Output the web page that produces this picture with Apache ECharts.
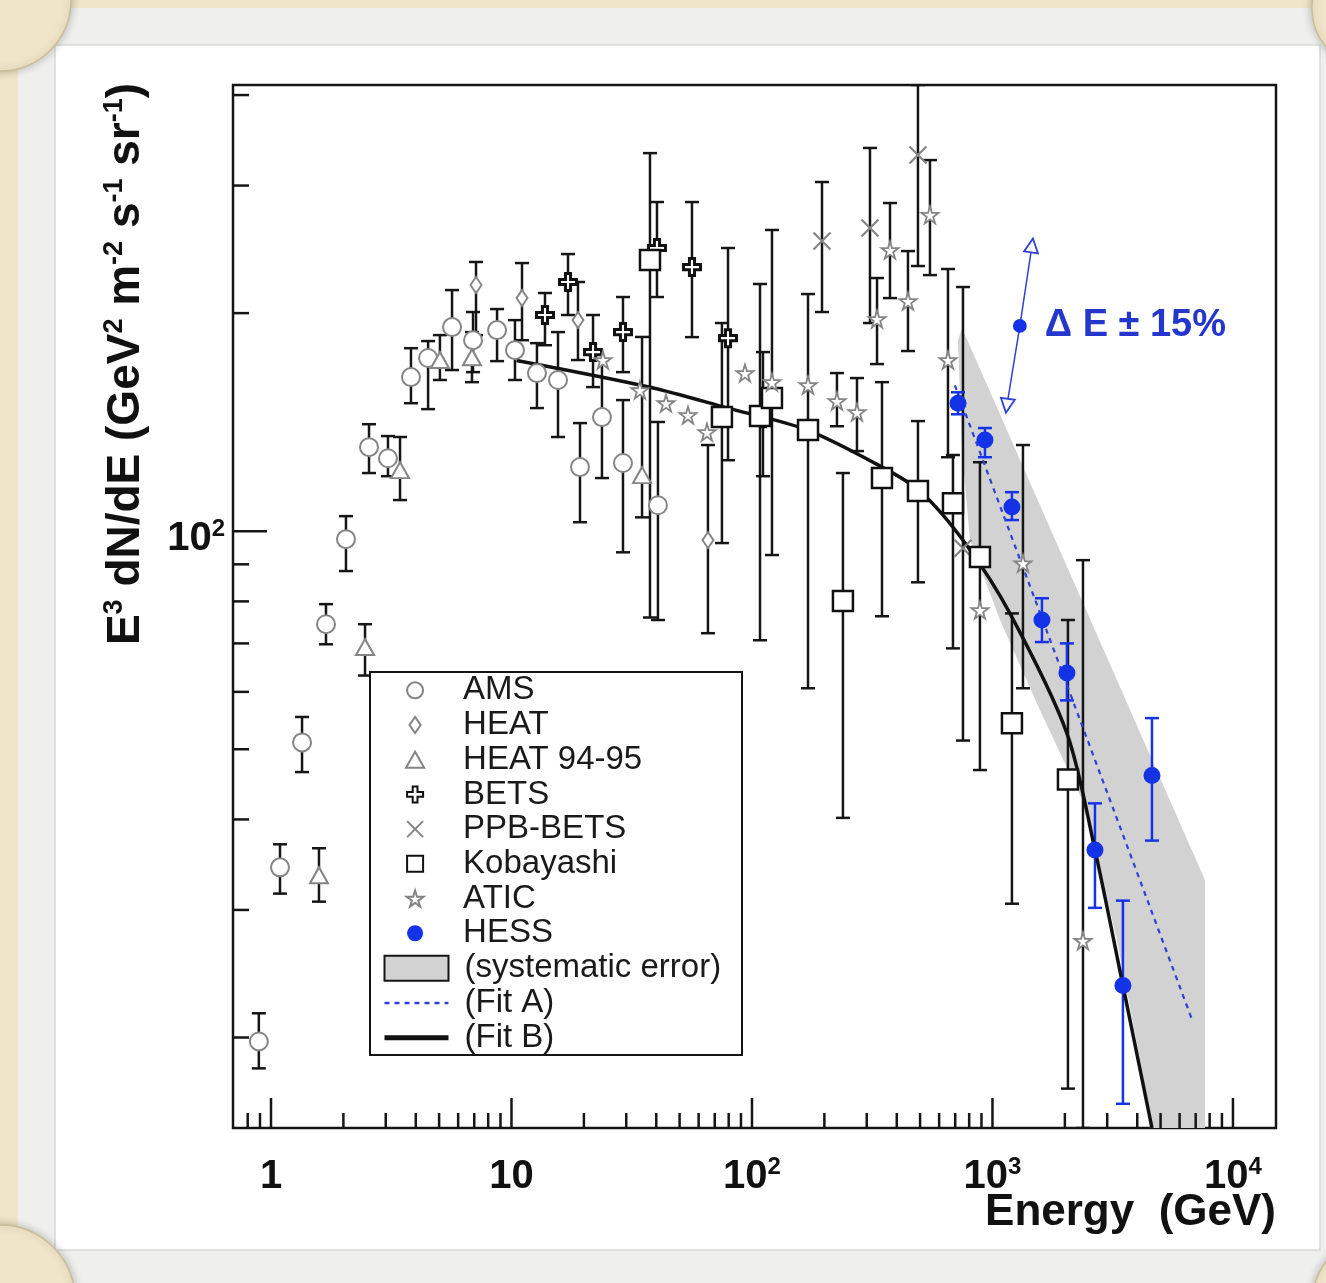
<!DOCTYPE html>
<html>
<head>
<meta charset="utf-8">
<script src="https://cdn.jsdelivr.net/npm/echarts@6/dist/echarts.min.js"></script>
<style>
  html, body { margin: 0; padding: 0; background: #f0e5c8; }
  #chart { width: 1326px; height: 1283px; }
</style>
</head>
<body>
<div id="chart"></div>
<script>
// Cosmic-ray electron spectrum, E^3 dN/dE versus energy, log-log.

const X_MIN = 0.695, X_MAX = 15100;
const Y_MIN = 15, Y_MAX = 413;

const xMajorTicks = [1, 10, 100, 1000, 10000];
const xMinorTicks = [0.8, 0.9, 2, 3, 4, 5, 6, 7, 8, 9, 20, 30, 40, 50, 60, 70, 80, 90,
  200, 300, 400, 500, 600, 700, 800, 900, 2000, 3000, 4000, 5000, 6000, 7000, 8000, 9000];
const yMajorTicks = [100];
const yMinorTicks = [20, 30, 40, 50, 60, 70, 80, 90, 200, 300, 400];

// rows: [energy GeV, value, lower, upper]
const ams = [
  [0.89, 19.75, 18.13, 21.6], [1.09, 34.35, 31.6, 36.96], [1.346, 51.1, 46.5, 55.4],
  [1.693, 74.4, 69.8, 79.3], [2.05, 97.5, 88.1, 104.9], [2.556, 130.6, 120.3, 140.5],
  [3.065, 126.1, 119.1, 135.3], [3.82, 163.2, 150.2, 178.9], [4.5, 173.4, 147.4, 183.0],
  [5.66, 191.3, 166.9, 215.2], [6.92, 183.5, 165.8, 200.7], [8.71, 189.5, 171.7, 202.6],
  [10.34, 177.8, 161.7, 195.6], [12.76, 165.3, 147.9, 181.8], [15.61, 161.7, 134.9, 188.3],
  [19.27, 122.6, 102.9, 141.0], [23.78, 143.7, 118.4, 172.3], [29.08, 124.2, 93.5, 151.7],
  [40.65, 108.6, 75.4, 141.5]
];
const heat = [
  [7.12, 218.7, 186.5, 235.3], [11.06, 209.8, 183.5, 234.5], [18.9, 195.6, 172.3, 220.8],
  [65.6, 97.2, 72.3, 131.5]
];
const heat9495 = [
  [1.583, 33.5, 30.8, 36.5], [2.46, 69.2, 63.2, 74.4], [3.44, 121.4, 110.4, 134.9],
  [5.04, 172.3, 161.7, 186.5], [6.85, 173.8, 160.6, 188.3], [34.9, 119.5, 104.5, 185.4]
];
const bets = [
  [13.78, 198.8, 180.6, 213.2], [17.18, 220.8, 198.8, 241.3], [21.83, 176.7, 158.1, 198.8],
  [29.08, 188.3, 165.8, 210.5], [40.27, 246.0, 210.5, 284.7], [56.3, 231.5, 185.3, 284.7],
  [79.5, 184.7, 125.3, 246.0], [111.1, 143.2, 119.1, 176.7]
];
const ppbBets = [
  [195.5, 251.6, 200.7, 303.4], [309.5, 262.2, 193.8, 338.1], [490, 330.6, 232.3, 413],
  [754, 94.7, 51.4, 217.3]
];
const kobayashi = [
  [37.66, 236.8, 76.0, 332.6], [75.0, 143.7, 96.3, 193.8], [108, 144.2, 70.7, 219.4],
  [121.1, 152.7, 92.7, 260.5], [171, 137.9, 60.7, 212.5], [238.9, 80.1, 40.2, 120.3],
  [347.2, 118.4, 76.3, 160.6], [490, 113.6, 85.0, 141.9], [685, 109.3, 68.9, 127.4],
  [887, 92.1, 46.8, 124.5], [1205, 54.3, 30.6, 77.0], [2060, 45.4, 17.0, 75.4]
];
const atic = [
  [24.0, 172.3, 172.3, 172.3], [34.2, 156.6, 156.6, 156.6], [43.9, 150.2, 150.2, 150.2],
  [54.2, 144.6, 144.6, 144.6], [65.0, 137.0, 137.0, 137.0], [93.5, 165.3, 165.3, 165.3],
  [121.1, 160.6, 160.6, 160.6], [171, 159.1, 159.1, 159.1], [225.6, 151.2, 139.6, 165.3],
  [273.3, 146.0, 129.0, 162.7], [331.1, 196.3, 170.1, 223.6], [374.9, 244.4, 209.8, 283.8],
  [445.3, 207.8, 177.3, 243.6], [549.7, 273.3, 225.7, 325.3], [653.1, 172.3, 126.5, 230.1],
  [887, 77.8, 77.8, 77.8], [1339, 90.3, 60.7, 131.5], [2379, 27.2, 15.0, 91.2]
];
const hess = [
  [718.9, 150.2, 145.0, 155.5], [930.5, 133.6, 126.5, 138.8], [1205, 108.0, 103.6, 113.2],
  [1606, 75.4, 70.3, 80.8], [2040, 63.7, 58.4, 70.0], [2668, 36.3, 30.2, 42.1],
  [3487, 23.6, 16.2, 30.9], [4605, 46.0, 37.4, 55.2]
];

// systematic-error band: upper edge left to right, then lower edge right to left
const bandUpper = [[747, 190.7], [7648, 33.0], [7648, 15.0]];
const bandLower = [[4517, 15.0], [4224, 17.8], [3294, 27.2], [2472, 41.2], [1576, 56.6],
  [1075, 75.4], [806, 97.2], [747, 129.4], [719, 183.5]];

const fitA = [[698, 159], [6820, 21.0]];
const fitB = [[10.5, 172], [37.6, 158], [78.7, 148], [169, 138], [341, 123], [499, 113.6],
  [769, 96.3], [1182, 77.0], [2040, 52.6], [2668, 36.3], [3487, 23.6], [4605, 15.0]];

// energy-scale uncertainty marker: lower arrow, centre, upper arrow
const deltaE = [[1148, 149], [1300, 192], [1460, 248]];

const FONT = "'Liberation Sans', Arial, Helvetica, sans-serif";
const BLUE = '#1533e6';
const GRAY = '#858585';
const PLUS_PATH = 'path://M35,0H65V35H100V65H65V100H35V65H0V35H35Z';
const CROSS_PATH = 'path://M0,0L100,100M100,0L0,100';
const STAR_PATH = 'path://M50,0L61,35L98,35L68,57L79,91L50,70L21,91L32,57L2,35L39,35Z';
const DIAMOND_PATH = 'path://M35,0L70,50L35,100L0,50Z';
const TRIANGLE_PATH = 'path://M50,0L100,88L0,88Z';
const SQUARE_PATH = 'path://M0,0H100V100H0Z';
const HIDDEN = { color: 'rgba(0,0,0,0)', borderColor: 'rgba(0,0,0,0)', borderWidth: 0 };

function xy(rows) { return rows.map(r => [r[0], r[1]]); }

function errorBars(id, rows, color, width) {
  return {
    type: 'custom', id: id, coordinateSystem: 'cartesian2d', clip: true, silent: true, z: 2,
    data: rows,
    renderItem(params, api) {
      const x = api.value(0), lo = api.value(2), hi = api.value(3);
      if (lo === hi) return null;
      const a = api.coord([x, lo]), b = api.coord([x, hi]);
      const cap = 7;
      const st = { stroke: color, lineWidth: width };
      return {
        type: 'group', children: [
          { type: 'line', shape: { x1: a[0], y1: a[1], x2: b[0], y2: b[1] }, style: st },
          { type: 'line', shape: { x1: a[0] - cap, y1: a[1], x2: a[0] + cap, y2: a[1] }, style: st },
          { type: 'line', shape: { x1: b[0] - cap, y1: b[1], x2: b[0] + cap, y2: b[1] }, style: st }
        ]
      };
    }
  };
}

function tickSeries(id, values, horizontal, len) {
  return {
    type: 'custom', id: id, coordinateSystem: 'cartesian2d', silent: true, z: 6,
    data: values.map(v => horizontal ? [v, Y_MIN] : [X_MIN, v]),
    renderItem(params, api) {
      const p = api.coord([api.value(0), api.value(1)]);
      const shape = horizontal
        ? { x1: p[0], y1: p[1], x2: p[0], y2: p[1] - len }
        : { x1: p[0], y1: p[1], x2: p[0] + len, y2: p[1] };
      return { type: 'line', shape: shape, style: { stroke: '#151515', lineWidth: 2.5 } };
    }
  };
}

function powLabel(v) {
  const l = Math.log10(v), e = Math.round(l);
  if (Math.abs(l - e) > 1e-6) return '';
  if (e === 0) return '{b|1}';
  if (e === 1) return '{b|10}';
  return '{b|10}{s|' + e + '}';
}

const labelRich = {
  b: { fontSize: 40, fontWeight: 'bold', fontFamily: FONT, color: '#111', lineHeight: 44 },
  s: { fontSize: 24, fontWeight: 'bold', fontFamily: FONT, color: '#111', verticalAlign: 'top', lineHeight: 24 }
};

function scatter(name, rows, symbol, size, style) {
  return {
    type: 'scatter', name: name, data: xy(rows), symbol: symbol, symbolSize: size, z: 4,
    silent: true, itemStyle: Object.assign({ opacity: 1 }, style)
  };
}

const legendText = { fontSize: 33, lineHeight: 34.7, color: '#1a1a1a', fontFamily: FONT, padding: [0, 0, 0, 11] };

const option = {
  backgroundColor: '#f0e5c8',
  animation: false,
  grid: { left: 233, top: 85, width: 1043, height: 1043, show: true, backgroundColor: '#ffffff',
    borderColor: '#151515', borderWidth: 2.5, outerBoundsMode: 'none', containLabel: false },
  xAxis: {
    type: 'log', logBase: 10, min: X_MIN, max: X_MAX,
    axisLine: { show: false }, axisTick: { show: false }, splitLine: { show: false },
    axisLabel: { show: true, margin: 27, showMinLabel: false, showMaxLabel: false, hideOverlap: false,
      formatter: powLabel, rich: labelRich }
  },
  yAxis: {
    type: 'log', logBase: 10, min: Y_MIN, max: Y_MAX,
    axisLine: { show: false }, axisTick: { show: false }, splitLine: { show: false },
    axisLabel: { show: true, margin: 8, showMinLabel: false, showMaxLabel: false, hideOverlap: false,
      padding: [16, 0, 0, 0], formatter: powLabel, rich: labelRich }
  },
  legend: [
    {
      z: 10, left: 405, top: 673, orient: 'vertical', padding: 0, itemGap: 0,
      itemWidth: 64, itemHeight: 16, selectedMode: false,
      data: [
        'AMS',
        { name: 'HEAT', icon: DIAMOND_PATH },
        { name: 'HEAT 94-95', icon: TRIANGLE_PATH },
        'BETS', 'PPB-BETS',
        { name: 'Kobayashi', icon: SQUARE_PATH },
        'ATIC', 'HESS'
      ],
      textStyle: legendText
    },
    {
      z: 10, left: 382, top: 951, orient: 'vertical', padding: 0, itemGap: 0,
      itemWidth: 64, itemHeight: 25, selectedMode: false,
      data: [
        { name: '(systematic error)', icon: 'rect', itemStyle: { color: '#d2d2d2', borderColor: '#151515', borderWidth: 2 } },
        { name: '(Fit A)', itemStyle: HIDDEN, lineStyle: { width: 2.5, color: '#3040d8', type: [5, 5] } },
        { name: '(Fit B)', itemStyle: HIDDEN, lineStyle: { width: 5, color: '#111' } }
      ],
      textStyle: legendText
    }
  ],
  graphic: [
    { type: 'rect', z: -20, silent: true, shape: { x: 18, y: 8, width: 1308, height: 1275 }, style: { fill: '#efefed' } },
    { type: 'rect', z: -19, silent: true, shape: { x: 55, y: 45, width: 1265, height: 1205 }, style: { fill: '#ffffff', stroke: '#d9d9d7', lineWidth: 1.5 } },
    { type: 'circle', z: -18, silent: true, shape: { cx: 0, cy: 0, r: 71 }, style: { fill: '#f0e5c8', stroke: '#cbbd95', lineWidth: 1.5, shadowBlur: 8, shadowColor: 'rgba(0,0,0,0.25)' } },
    { type: 'circle', z: -18, silent: true, shape: { cx: 0, cy: 1300, r: 75 }, style: { fill: '#f0e5c8', stroke: '#cbbd95', lineWidth: 1.5, shadowBlur: 8, shadowColor: 'rgba(0,0,0,0.25)' } },
    { type: 'circle', z: -18, silent: true, shape: { cx: 1372, cy: 8, r: 60 }, style: { fill: '#f0e5c8', stroke: '#cbbd95', lineWidth: 1.5, shadowBlur: 8, shadowColor: 'rgba(0,0,0,0.25)' } },
    { type: 'circle', z: -18, silent: true, shape: { cx: 1375, cy: 1300, r: 62 }, style: { fill: '#f0e5c8', stroke: '#cbbd95', lineWidth: 1.5, shadowBlur: 8, shadowColor: 'rgba(0,0,0,0.25)' } },
    { type: 'rect', z: 9, silent: true, shape: { x: 370, y: 672, width: 372, height: 383 }, style: { fill: '#ffffff', stroke: '#151515', lineWidth: 2 } },
    {
      type: 'text', z: 10, silent: true, x: 126, y: 364, rotation: Math.PI / 2,
      style: {
        text: '{m|E}{s|3}{m| dN/dE (GeV}{s|2}{m| m}{s|-2}{m| s}{s|-1}{m| sr}{s|-1}{m|)}',
        align: 'center', verticalAlign: 'middle',
        rich: {
          m: { fontSize: 46, fontWeight: 'bold', fontFamily: FONT, fill: '#111', lineHeight: 50 },
          s: { fontSize: 27, fontWeight: 'bold', fontFamily: FONT, fill: '#111', verticalAlign: 'top', lineHeight: 27 }
        }
      }
    },
    {
      type: 'text', z: 10, silent: true, x: 1276, y: 1213,
      style: { text: 'Energy  (GeV)', align: 'right', verticalAlign: 'middle',
        fontSize: 44, fontWeight: 'bold', fontFamily: FONT, fill: '#111' }
    }
  ],
  series: [
    {
      type: 'custom', name: '(systematic error)', coordinateSystem: 'cartesian2d', clip: true, silent: true, z: 1,
      itemStyle: { color: '#d2d2d2' },
      data: bandUpper.concat(bandLower),
      renderItem(params, api) {
        if (params.dataIndex !== 0) return null;
        const pts = bandUpper.concat(bandLower).map(p => api.coord(p));
        return { type: 'polygon', shape: { points: pts }, style: { fill: '#d2d2d2' } };
      }
    },
    errorBars('amsErr', ams, '#151515', 2.5),
    errorBars('heatErr', heat, '#151515', 2.5),
    errorBars('heat9495Err', heat9495, '#151515', 2.5),
    errorBars('betsErr', bets, '#151515', 2.5),
    errorBars('ppbErr', ppbBets, '#151515', 2.5),
    errorBars('kobErr', kobayashi, '#151515', 2.5),
    errorBars('aticErr', atic, '#151515', 2.5),
    errorBars('hessErr', hess, BLUE, 2.5),
    {
      type: 'line', name: '(Fit A)', data: fitA, symbol: 'none', z: 3, clip: true, silent: true,
      lineStyle: { color: '#3040d8', width: 2.2, type: [5, 5] }, itemStyle: { color: '#3040d8' }
    },
    {
      type: 'line', name: '(Fit B)', data: fitB, symbol: 'none', smooth: 0.3, z: 3, clip: true, silent: true,
      lineStyle: { color: '#111', width: 3.5 }, itemStyle: { color: '#111' }
    },
    scatter('AMS', ams, 'circle', 18, { color: '#ffffff', borderColor: GRAY, borderWidth: 2 }),
    scatter('HEAT', heat, 'diamond', [11, 16], { color: '#ffffff', borderColor: GRAY, borderWidth: 2 }),
    scatter('HEAT 94-95', heat9495, 'triangle', [18, 16], { color: '#ffffff', borderColor: GRAY, borderWidth: 2 }),
    scatter('BETS', bets, PLUS_PATH, 17, { color: '#ffffff', borderColor: '#111', borderWidth: 3 }),
    scatter('PPB-BETS', ppbBets, CROSS_PATH, 17, { color: '#ffffff', borderColor: GRAY, borderWidth: 2.2 }),
    scatter('Kobayashi', kobayashi, 'rect', 20, { color: '#ffffff', borderColor: '#111', borderWidth: 2.5 }),
    scatter('ATIC', atic, STAR_PATH, 17, { color: '#ffffff', borderColor: GRAY, borderWidth: 1.8 }),
    scatter('HESS', hess, 'circle', 17, { color: BLUE }),
    tickSeries('xMajor', xMajorTicks, true, 30),
    tickSeries('xMinor', xMinorTicks, true, 15),
    tickSeries('yMajor', yMajorTicks, false, 34),
    tickSeries('yMinor', yMinorTicks, false, 16),
    {
      type: 'line', id: 'energyScale', z: 5, silent: true,
      lineStyle: { color: '#3040d8', width: 1.5 },
      symbolSize: 14,
      itemStyle: { color: '#ffffff', borderColor: '#3040d8', borderWidth: 1.8, opacity: 1 },
      data: [
        { value: deltaE[0], symbol: 'triangle', symbolRotate: 172 },
        { value: deltaE[1], symbol: 'circle', symbolSize: 12, itemStyle: { color: BLUE, borderColor: BLUE },
          label: { show: true, position: 'right', distance: 18, formatter: 'Δ E ± 15%',
            fontSize: 38, fontWeight: 'bold', fontFamily: FONT, color: '#2536cc' } },
        { value: deltaE[2], symbol: 'triangle', symbolRotate: -8 }
      ]
    }
  ]
};

const chart = echarts.init(document.getElementById('chart'), null, { renderer: 'canvas' });
chart.setOption(option);
</script>
</body>
</html>
